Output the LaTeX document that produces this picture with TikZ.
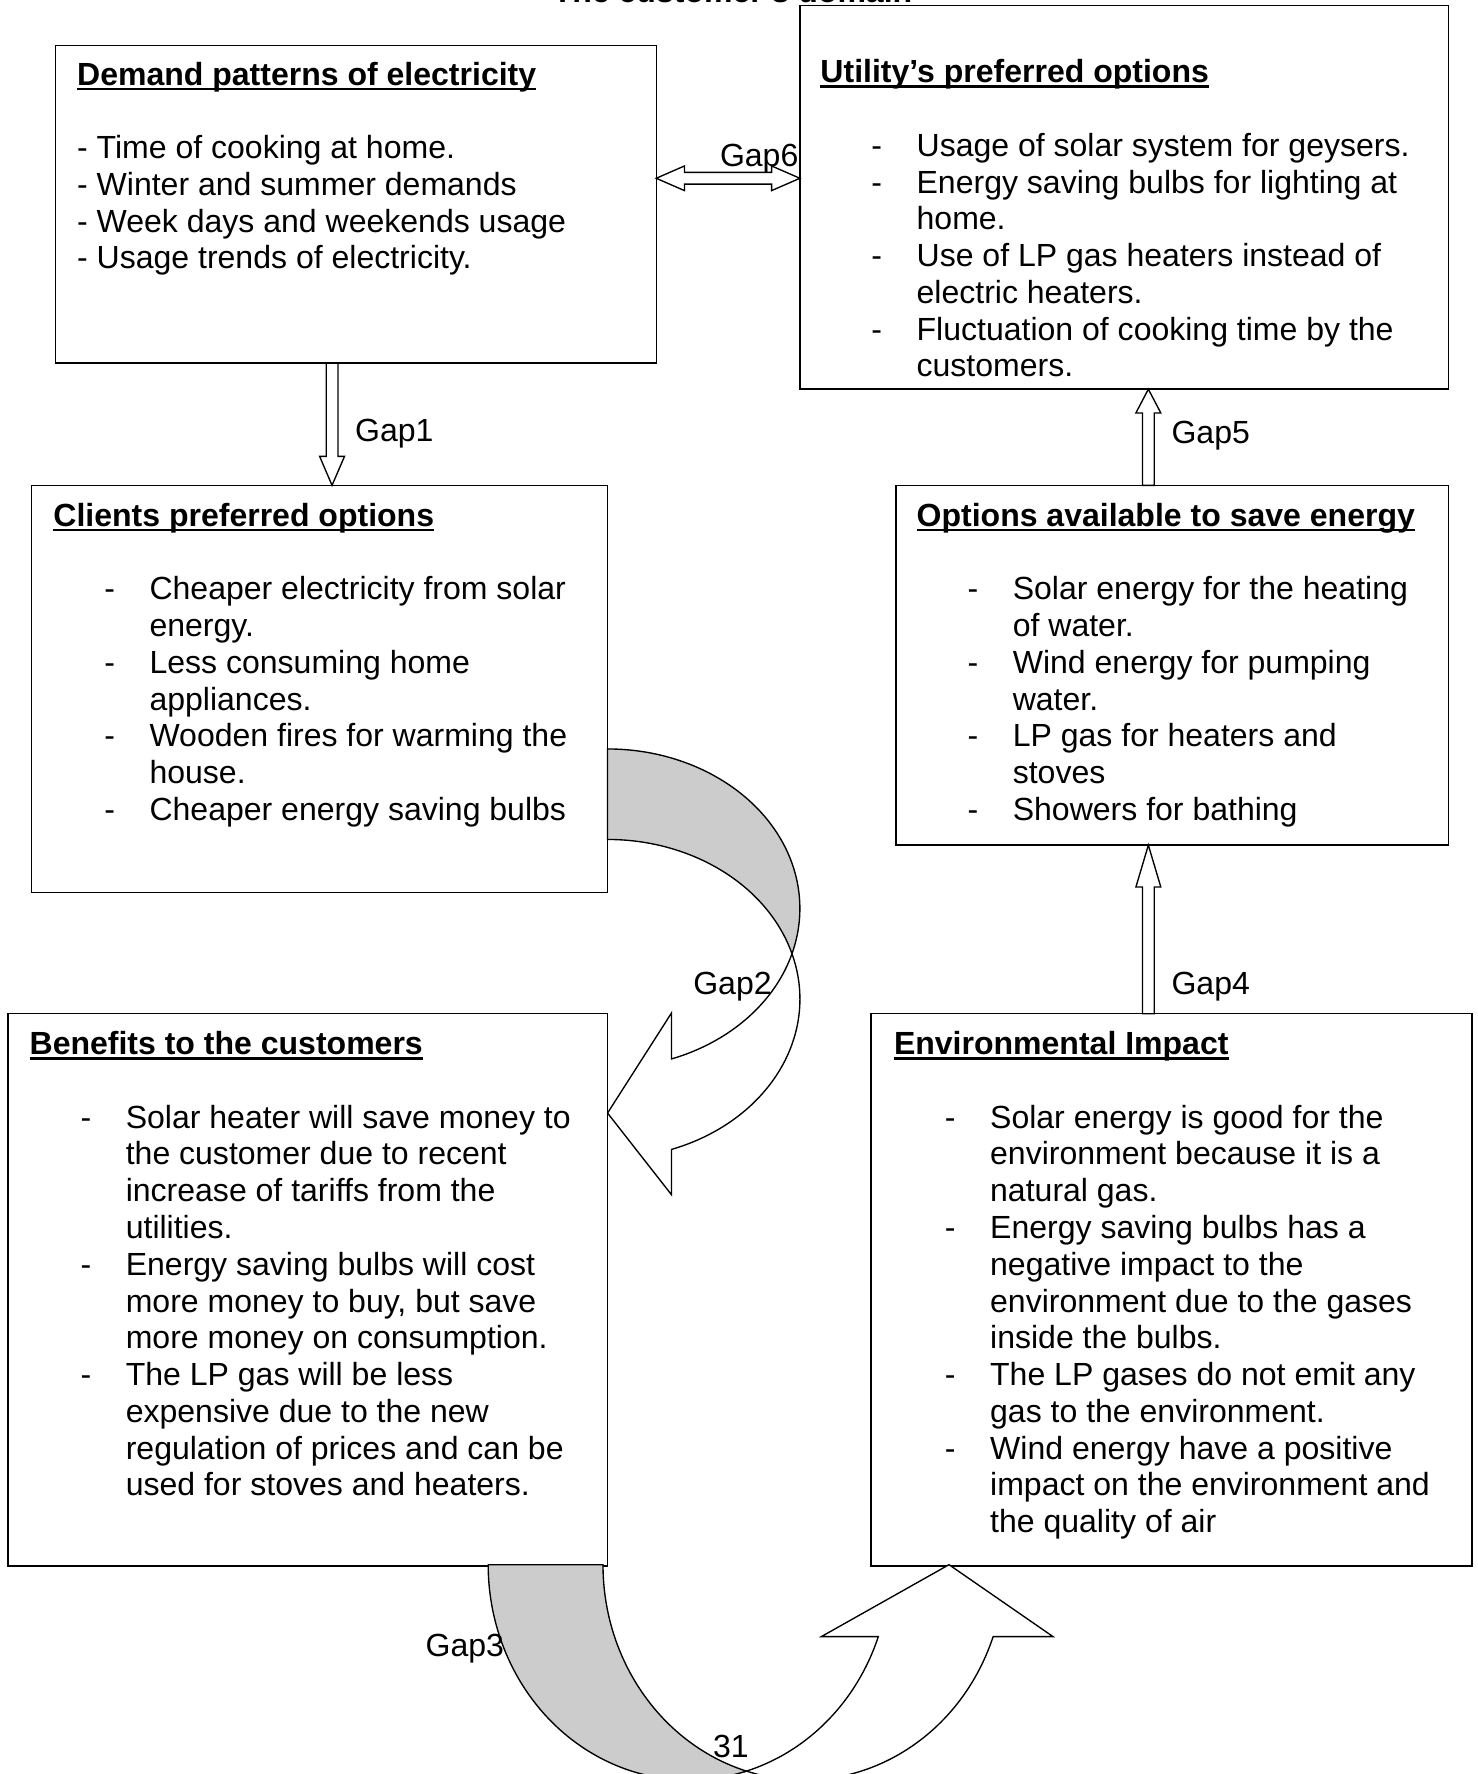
\documentclass[tikz,border=0pt]{standalone}
\usepackage{fontspec}
\setmainfont{Liberation Sans}
\usetikzlibrary{calc}
\definecolor{bandgrey}{HTML}{CCCCCC}
\newsavebox\hdbox
\newcommand\hdul[1]{\sbox\hdbox{#1}\rlap{\rule[-4.5pt]{\wd\hdbox}{2.2pt}}\usebox\hdbox}
\newcommand\itm[1]{\hspace*{45pt}\makebox[40pt][l]{-}#1}
\newcommand\cnt[1]{\hspace*{85pt}#1}
\newcommand\hd[1]{\rule{0pt}{26pt}\textbf{\hdul{#1}}}
\newcommand\vblockarrow[5]{\draw[blk] let \p1=(#1), \p2=(#2) in (\x1-#3,\y1) -- (\x2-#3,{\y2+(#5)}) -- (\x2-#4,{\y2+(#5)}) -- (\x2,\y2) -- (\x2+#4,{\y2+(#5)}) -- (\x2+#3,{\y2+(#5)}) -- (\x1+#3,\y1) -- cycle;}
\begin{document}
\begin{tikzpicture}[x=1pt,y=1pt,
  blk/.style={draw,line width=1.2pt,fill=white,line join=miter},
  box/.style={draw,line width=1.2pt,rectangle,inner sep=0pt,outer sep=0pt},
  txt/.style={anchor=north west,inner sep=0pt,align=left,font=\fontsize{28.3}{32.5}\selectfont},
  lbl/.style={anchor=base west,inner sep=0pt,font=\fontsize{28.3}{32.5}\selectfont}]
\useasboundingbox (0,0) rectangle (1306,1568);
\fill[white] (0,0) rectangle (1306,1568);

% title (cut by the page edge, as in the reference)
\node[anchor=base,inner sep=0pt,font=\bfseries\fontsize{28.3}{32.5}\selectfont] (title) at (647.5,1565.6) {The customer’s domain};

% boxes
\node[box,minimum width=531pt,minimum height=281pt] (b1) at (314.5,1387.5) {};
\node[box,minimum width=573pt,minimum height=339pt] (b2) at (993.5,1393.5) {};
\node[box,minimum width=509pt,minimum height=360pt] (b3) at (282.5,959) {};
\node[box,minimum width=488pt,minimum height=318pt] (b4) at (1036,980) {};
\node[box,minimum width=530pt,minimum height=488pt] (b5) at (272,428) {};
\node[box,minimum width=531pt,minimum height=488pt] (b6) at (1035.5,428) {};

% straight block arrows
\coordinate (g1) at (293.5,0);
\coordinate (g5) at (1015,0);
\coordinate (g6) at (0,1410.4);
\vblockarrow{g1 |- b1.south}{g1 |- b3.north}{5.2}{11}{25.6}
\vblockarrow{g5 |- b4.north}{g5 |- b2.south}{5.2}{11}{-21}
\vblockarrow{g5 |- b6.north}{g5 |- b4.south}{5.2}{11}{-37}
\draw[blk] let \p1=(g6 -| b1.east), \p2=(g6 -| b2.west) in
  (\x1,\y1) -- (\x1+25,\y1+10.9) -- (\x1+25,\y1+5.2) -- (\x2-25,\y1+5.2) -- (\x2-25,\y1+10.9)
  -- (\x2,\y2) -- (\x2-25,\y2-10.9) -- (\x2-25,\y2-5.2) -- (\x1+25,\y1-5.2) -- (\x1+25,\y1-10.9) -- cycle;

% Gap2 curved arrow
\filldraw[fill=bandgrey,line width=1.2pt] (537,906) arc[start angle=90,end angle=-16.48,x radius=170,y radius=141]
  arc[start angle=16.48,end angle=90,x radius=170,y radius=141] -- cycle;
\filldraw[fill=white,line width=1.2pt,line join=miter] (700.02,725) arc[start angle=16.48,end angle=-70.59,x radius=170,y radius=141]
  -- (593.5,512) -- (537,584.2) -- (593.5,672.6) -- (593.5,632.0)
  arc[start angle=-70.59,end angle=-16.48,x radius=170,y radius=141] -- cycle;

% Gap3 curved arrow
\filldraw[fill=bandgrey,line width=1.2pt] (431.5,185) arc[start angle=180,end angle=286.61,x radius=177.5,y radius=190.4]
  arc[start angle=253.39,end angle=180,x radius=177.5,y radius=190.4] -- cycle;
\filldraw[fill=white,line width=1.2pt,line join=miter] (659.74,2.55) arc[start angle=286.61,end angle=340.5,x radius=177.5,y radius=190.4]
  -- (726,121.45) -- (838.8,185) -- (930.7,121.45) -- (877.8,121.45)
  arc[start angle=340.5,end angle=253.39,x radius=177.5,y radius=190.4] -- cycle;

% gap labels
\node[lbl] (l1) at (313.7,1177.7) {Gap1};
\node[lbl] (l5) at (1035.3,1176.3) {Gap5};
\node[lbl] (l4) at (1035.3,688.8) {Gap4};
\node[lbl] (l6) at (636.2,1420.7) {Gap6};
\node[lbl] (l2) at (612.6,688.8) {Gap2};
\node[lbl] (l3) at (376,104.1) {Gap3};
\node[lbl] (pg) at (630,14.5) {31};

% box texts
\node[txt] (t1) at (68,1519) {\hd{Demand patterns of electricity}\\[32.5pt]
- Time of cooking at home.\\
- Winter and summer demands\\
- Week days and weekends usage\\
- Usage trends of electricity.};

\node[txt] (t2) at (725,1521) {\hd{Utility’s preferred options}\\[32.5pt]
\itm{Usage of solar system for geysers.}\\
\itm{Energy saving bulbs for lighting at}\\
\cnt{home.}\\
\itm{Use of LP gas heaters instead of}\\
\cnt{electric heaters.}\\
\itm{Fluctuation of cooking time by the}\\
\cnt{customers.}};

\node[txt] (t3) at (47,1129) {\hd{Clients preferred options}\\[32.5pt]
\itm{Cheaper electricity from solar}\\
\cnt{energy.}\\
\itm{Less consuming home}\\
\cnt{appliances.}\\
\itm{Wooden fires for warming the}\\
\cnt{house.}\\
\itm{Cheaper energy saving bulbs}};

\node[txt] (t4) at (810,1129) {\hd{Options available to save energy}\\[32.5pt]
\itm{Solar energy for the heating}\\
\cnt{of water.}\\
\itm{Wind energy for pumping}\\
\cnt{water.}\\
\itm{LP gas for heaters and}\\
\cnt{stoves}\\
\itm{Showers for bathing}};

\node[txt] (t5) at (26,662) {\hd{Benefits to the customers}\\[32.5pt]
\itm{Solar heater will save money to}\\
\cnt{the customer due to recent}\\
\cnt{increase of tariffs from the}\\
\cnt{utilities.}\\
\itm{Energy saving bulbs will cost}\\
\cnt{more money to buy, but save}\\
\cnt{more money on consumption.}\\
\itm{The LP gas will be less}\\
\cnt{expensive due to the new}\\
\cnt{regulation of prices and can be}\\
\cnt{used for stoves and heaters.}};

\node[txt] (t6) at (790,662) {\hd{Environmental Impact}\\[32.5pt]
\itm{Solar energy is good for the}\\
\cnt{environment because it is a}\\
\cnt{natural gas.}\\
\itm{Energy saving bulbs has a}\\
\cnt{negative impact to the}\\
\cnt{environment due to the gases}\\
\cnt{inside the bulbs.}\\
\itm{The LP gases do not emit any}\\
\cnt{gas to the environment.}\\
\itm{Wind energy have a positive}\\
\cnt{impact on the environment and}\\
\cnt{the quality of air}};
\end{tikzpicture}
\end{document}
